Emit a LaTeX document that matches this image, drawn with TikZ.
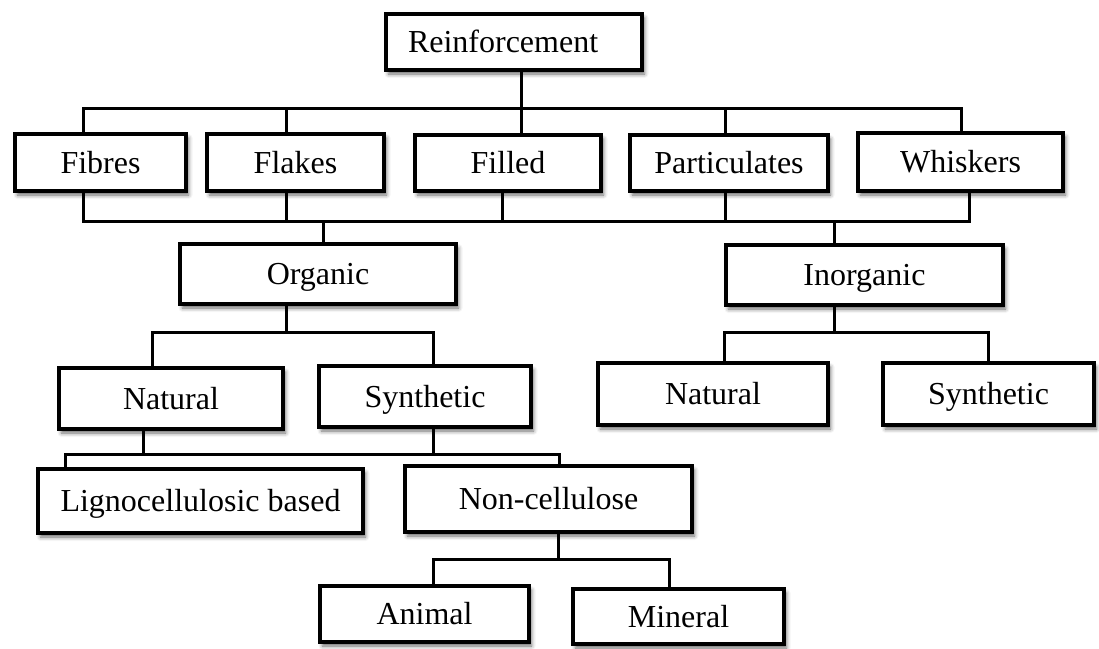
\documentclass[tikz,border=0pt]{standalone}
\usepackage{fontspec}
\setmainfont{Liberation Serif}
\usetikzlibrary{calc,shadows.blur}
\begin{document}
\begin{tikzpicture}[x=1pt,y=-1pt,
  box/.style={draw=black, line width=4.5pt, fill=white, rectangle, inner sep=0pt,
    font=\fontsize{32}{37}\selectfont, text height=21.5pt, text depth=0pt,
    blur shadow={shadow xshift=2.5pt, shadow yshift=-4pt, shadow blur radius=4pt, shadow opacity=60}},
  conn/.style={line width=3pt, draw=black}]
\useasboundingbox (0,0) rectangle (1099,648);

% nodes
\node[box, minimum width=256pt, minimum height=56pt, text width=212pt, align=left] (reinf) at (514,42) {Reinforcement};
\node[box, minimum width=171pt, minimum height=57pt] (fibres) at (100.5,162.5) {Fibres};
\node[box, minimum width=177pt, minimum height=57pt] (flakes) at (295.5,162.5) {Flakes};
\node[box, minimum width=186pt, minimum height=56pt] (filled) at (508,163) {Filled};
\node[box, minimum width=198pt, minimum height=56pt] (partic) at (729,163) {Particulates};
\node[box, minimum width=205pt, minimum height=58pt] (whisk) at (960.5,162) {Whiskers};
\node[box, minimum width=276pt, minimum height=60pt] (organic) at (318,274) {Organic};
\node[box, minimum width=277pt, minimum height=60pt] (inorg) at (864.5,275) {Inorganic};
\node[box, minimum width=224pt, minimum height=61pt] (natL) at (171,398.5) {Natural};
\node[box, minimum width=212pt, minimum height=61pt] (synL) at (425,396.5) {Synthetic};
\node[box, minimum width=230pt, minimum height=62pt] (natR) at (713,394) {Natural};
\node[box, minimum width=211pt, minimum height=62pt] (synR) at (988.5,394) {Synthetic};
\node[box, minimum width=325pt, minimum height=64pt] (ligno) at (200.5,501) {Lignocellulosic based};
\node[box, minimum width=287pt, minimum height=66pt] (noncell) at (548.5,499) {Non-cellulose};
\node[box, minimum width=209pt, minimum height=56pt] (animal) at (424.5,614) {Animal};
\node[box, minimum width=211pt, minimum height=55pt] (mineral) at (678.5,616.5) {Mineral};

% bus levels
\coordinate (tb) at (0,108);
\coordinate (bb) at (0,221);
\coordinate (ob) at (0,332);
\coordinate (nb) at (0,454);
\coordinate (cb) at (0,559);

% Reinforcement -> first level
\draw[conn] ($(reinf.south)+(7,0)$) -- ($(filled.north)+(13,0)$);
\coordinate (fibT) at ($(fibres.north)+(-17.5,0)$);
\coordinate (flaT) at ($(flakes.north)+(-9.5,0)$);
\coordinate (parT) at ($(partic.north)+(-4,0)$);
\coordinate (whiT) at ($(whisk.north)+(0.5,0)$);
\draw[conn] (fibT) |- (tb -| whiT) -- (whiT);
\draw[conn] (flaT) -- (flaT |- tb);
\draw[conn] (parT) -- (parT |- tb);

% first level -> Organic / Inorganic
\coordinate (fibB) at ($(fibres.south)+(-17.5,0)$);
\coordinate (flaB) at ($(flakes.south)+(-9.5,0)$);
\coordinate (filB) at ($(filled.south)+(-6,0)$);
\coordinate (parB) at ($(partic.south)+(-4,0)$);
\coordinate (whiB) at ($(whisk.south)+(8.5,0)$);
\draw[conn] (fibB) |- (bb -| whiB) -- (whiB);
\draw[conn] (flaB) -- (flaB |- bb);
\draw[conn] (filB) -- (filB |- bb);
\draw[conn] (parB) -- (parB |- bb);
\coordinate (orgT) at ($(organic.north)+(5,0)$);
\coordinate (inoT) at ($(inorg.north)+(-30.5,0)$);
\draw[conn] (orgT |- bb) -- (orgT);
\draw[conn] (inoT |- bb) -- (inoT);

% Organic -> Natural / Synthetic
\coordinate (orgB) at ($(organic.south)+(-32,0)$);
\coordinate (natLT) at ($(natL.north)+(-19,0)$);
\coordinate (synLT) at ($(synL.north)+(8,0)$);
\draw[conn] (orgB) -- (orgB |- ob);
\draw[conn] (natLT) |- (ob -| synLT) -- (synLT);

% Inorganic -> Natural / Synthetic
\coordinate (inoB) at ($(inorg.south)+(-30.5,0)$);
\coordinate (natRT) at ($(natR.north)+(11,0)$);
\coordinate (synRT) at ($(synR.north)+(-0.5,0)$);
\draw[conn] (inoB) -- (inoB |- ob);
\draw[conn] (natRT) |- (ob -| synRT) -- (synRT);

% Natural / Synthetic -> Lignocellulosic / Non-cellulose
\coordinate (natLB) at ($(natL.south)+(-28,0)$);
\coordinate (synLB) at ($(synL.south)+(8,0)$);
\coordinate (ligT) at ($(ligno.north)+(-135.5,0)$);
\coordinate (nonT) at ($(noncell.north)+(10.5,0)$);
\draw[conn] (ligT) |- (nb -| nonT) -- (nonT);
\draw[conn] (natLB) -- (natLB |- nb);
\draw[conn] (synLB) -- (synLB |- nb);

% Non-cellulose -> Animal / Mineral
\coordinate (nonB) at ($(noncell.south)+(9.5,0)$);
\coordinate (aniT) at ($(animal.north)+(8.5,0)$);
\coordinate (minT) at ($(mineral.north)+(-9.5,0)$);
\draw[conn] (nonB) -- (nonB |- cb);
\draw[conn] (aniT) |- (cb -| minT) -- (minT);
\end{tikzpicture}
\end{document}
